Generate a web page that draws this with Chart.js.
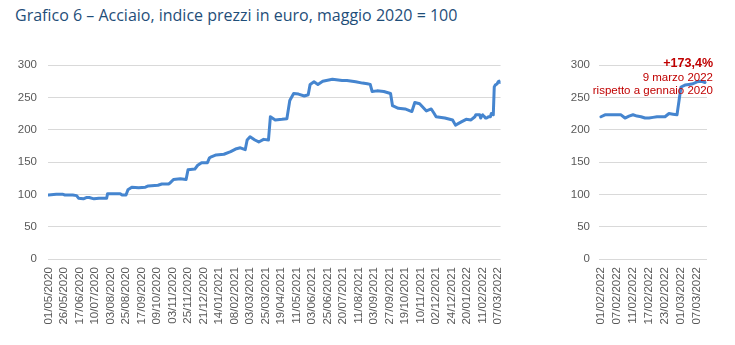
<!DOCTYPE html>
<html>
<head>
<meta charset="utf-8">
<script src="https://cdn.jsdelivr.net/npm/chart.js@4.4.1/dist/chart.umd.min.js"></script>
<style>
  body { margin: 0; background: #fff; }
  #wrap { position: relative; width: 735px; height: 345px; overflow: hidden; }
  #title { position: absolute; left: 15px; top: 4px; font: 16px "Open Sans", sans-serif; color: #1f4e79; white-space: nowrap; }
  #mainBox { position: absolute; left: 0; top: 40px; width: 520px; height: 305px; }
  #recentBox { position: absolute; left: 545px; top: 40px; width: 190px; height: 305px; }
</style>
</head>
<body>
<div id="wrap">
  <div id="title">Grafico 6 – Acciaio, indice prezzi in euro, maggio 2020 = 100</div>
  <div id="mainBox"><canvas id="mainChart"></canvas></div>
  <div id="recentBox"><canvas id="recentChart"></canvas></div>
</div>
<script>
// Steel price index in euro, May 2020 = 100 (trading-day index from 01/05/2020)
var mainDay = [0, 8, 15, 17, 25, 29, 31, 36, 39, 42, 47, 52, 60, 61, 74, 76, 80, 82, 86, 93,
  100, 103, 113, 117, 124, 125, 129, 136, 142, 144, 151, 154, 158, 164, 166, 168, 173, 181, 188, 193,
  198, 203, 205, 208, 213, 217, 222, 227, 229, 234, 241, 246, 249, 253, 258, 264, 268, 270, 274, 278,
  283, 293, 303, 308, 317, 324, 329, 332, 334, 339, 346, 353, 355, 361, 368, 375, 378, 383, 390, 395,
  398, 400, 409, 417, 420, 426, 431, 436];
var mainPrice = [99, 100, 100, 99, 99, 98, 94, 93, 95, 95, 93, 94, 94, 101, 101, 99, 99, 107, 111, 110,
  111, 113, 114, 116, 116, 117, 123, 124, 123, 138, 139, 145, 149, 149, 156, 158, 161, 162, 166, 170,
  172, 169, 184, 189, 184, 181, 185, 184, 220, 215, 216, 217, 245, 256, 255, 252, 254, 270, 274, 270,
  275, 278, 276, 276, 274, 272, 271, 270, 259, 260, 259, 256, 237, 233, 232, 228, 242, 240, 229, 232,
  225, 220, 218, 215, 207, 212, 216, 215];
var mainTicks = ['01/05/2020', '26/05/2020', '17/06/2020', '10/07/2020', '03/08/2020', '25/08/2020',
  '17/09/2020', '09/10/2020', '03/11/2020', '25/11/2020', '21/12/2020', '14/01/2021', '08/02/2021',
  '03/03/2021', '25/03/2021', '19/04/2021', '11/05/2021', '03/06/2021', '25/06/2021', '20/07/2021',
  '11/08/2021', '03/09/2021', '27/09/2021', '19/10/2021', '10/11/2021', '02/12/2021', '24/12/2021',
  '20/01/2022', '11/02/2022', '07/03/2022'];
var mainTickStep = 16;

// Daily values from 01/02/2022 to 09/03/2022
var recentStart = 440;
var recentPrice = [220, 223, 223, 223, 223, 223, 218, 221, 223, 221, 220, 218, 218, 219,
  220, 220, 220, 225, 224, 223, 266, 269, 270, 271, 274, 275, 273];
var recentTicks = ['01/02/2022', '07/02/2022', '11/02/2022', '17/02/2022', '23/02/2022', '01/03/2022', '07/03/2022'];
var recentTickStep = 4;

var noteLines = ['+173,4%', '9 marzo 2022', 'rispetto a gennaio 2020'];

var lineColor = '#4585cf';
var gridColor = '#d9d9d9';
var tickColor = '#595959';
var tickFont = { family: 'Liberation Sans, Arial, sans-serif', size: 11.5 };

var mainPoints = mainDay.map(function (d, k) { return { x: d, y: mainPrice[k] }; });
recentPrice.forEach(function (v, k) { mainPoints.push({ x: recentStart + k, y: v }); });
var recentPoints = recentPrice.map(function (v, k) { return { x: k, y: v }; });

function buildOptions(cfg) {
  return {
    responsive: true,
    maintainAspectRatio: false,
    animation: false,
    events: [],
    layout: { padding: { top: 25, right: cfg.padRight, left: 0, bottom: 0 } },
    plugins: { legend: { display: false }, tooltip: { enabled: false } },
    elements: { point: { radius: 0 } },
    scales: {
      x: {
        type: 'linear',
        min: -0.5,
        max: cfg.lastDay + 0.5,
        grid: { display: false, drawTicks: false },
        border: { display: false },
        afterBuildTicks: function (s) {
          s.ticks = cfg.ticks.map(function (_, k) { return { value: k * cfg.step }; });
        },
        afterFit: function (s) { s.height = 86; },
        ticks: {
          autoSkip: false,
          minRotation: 90,
          maxRotation: 90,
          padding: 8,
          color: tickColor,
          font: tickFont,
          callback: function (v) { return cfg.ticks[Math.round(v / cfg.step)]; }
        }
      },
      y: {
        min: 0,
        max: 300,
        grid: { color: gridColor, lineWidth: 1, drawTicks: false },
        border: { display: false },
        afterFit: function (s) { s.width = cfg.axisWidth; },
        ticks: { stepSize: 50, padding: cfg.labelPad, color: tickColor, font: tickFont }
      }
    }
  };
}

function lineDataset(points) {
  return {
    data: points,
    borderColor: lineColor,
    borderWidth: 3,
    tension: 0,
    borderJoinStyle: 'round',
    borderCapStyle: 'round',
    fill: false
  };
}

new Chart(document.getElementById('mainChart'), {
  type: 'line',
  data: { datasets: [lineDataset(mainPoints)] },
  options: buildOptions({ ticks: mainTicks, step: mainTickStep, lastDay: recentStart + recentPrice.length - 1,
    padRight: 13, axisWidth: 48, labelPad: 11 })
});

// red note in the top right corner of the recent-days panel
var notePlugin = {
  id: 'note',
  afterDraw: function (chart) {
    var ctx = chart.ctx;
    ctx.save();
    ctx.fillStyle = '#c00000';
    ctx.textAlign = 'right';
    ctx.textBaseline = 'alphabetic';
    ctx.font = 'bold 12.5px "Liberation Sans", Arial, sans-serif';
    ctx.fillText(noteLines[0], 168, 27);
    ctx.font = '11.5px "Liberation Sans", Arial, sans-serif';
    ctx.fillText(noteLines[1], 168, 41);
    ctx.fillText(noteLines[2], 168, 54);
    ctx.restore();
  }
};

new Chart(document.getElementById('recentChart'), {
  type: 'line',
  data: { datasets: [lineDataset(recentPoints)] },
  options: buildOptions({ ticks: recentTicks, step: recentTickStep, lastDay: recentPrice.length - 1,
    padRight: 28, axisWidth: 54, labelPad: 9 }),
  plugins: [notePlugin]
});
</script>
</body>
</html>
